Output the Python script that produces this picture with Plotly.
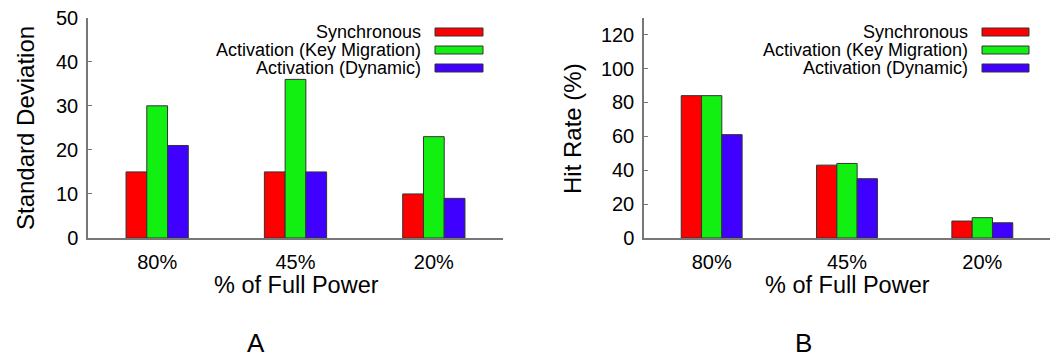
import plotly.graph_objects as go

categories = ["80%", "45%", "20%"]
series_names = ["Synchronous", "Activation (Key Migration)", "Activation (Dynamic)"]
colors = ["#FF0000", "#11F011", "#4000FF"]

std_sync = [15, 15, 10]
std_keymig = [30, 36, 23]
std_dynamic = [21, 15, 9]

hit_sync = [84, 43, 10]
hit_keymig = [84, 44, 12]
hit_dynamic = [61, 35, 9]

W, H = 1058, 358
FONT = "Liberation Sans, Arial, Helvetica, sans-serif"

fig = go.Figure()

for name, vals, c in zip(series_names, [std_sync, std_keymig, std_dynamic], colors):
    fig.add_trace(go.Bar(x=categories, y=vals, name=name, marker=dict(color=c, line=dict(color="#333333", width=1)),
                         xaxis="x", yaxis="y", showlegend=False))
for name, vals, c in zip(series_names, [hit_sync, hit_keymig, hit_dynamic], colors):
    fig.add_trace(go.Bar(x=categories, y=vals, name=name, marker=dict(color=c, line=dict(color="#333333", width=1)),
                         xaxis="x2", yaxis="y2", showlegend=False))

def px_x(p):
    return p / W

def px_y(p):
    return 1 - p / H

axis_common_x = dict(showline=True, linecolor="#777777", linewidth=1.5, ticks="", showgrid=False, zeroline=False,
                     range=[-0.5, 2.5], tickfont=dict(family=FONT, size=20, color="black"), ticklabelstandoff=5)
axis_common_y = dict(showline=True, linecolor="#777777", linewidth=1.5, ticks="inside", ticklen=4, tickcolor="#777777",
                     showgrid=False, zeroline=False, tickfont=dict(family=FONT, size=20, color="black"),
                     ticklabelstandoff=4)

fig.update_layout(
    width=W, height=H, margin=dict(l=0, r=0, t=0, b=0, autoexpand=False),
    paper_bgcolor="white", plot_bgcolor="white", showlegend=False,
    barmode="group", bargap=0.55, bargroupgap=0,
    xaxis=dict(domain=[px_x(88), px_x(503)], anchor="y", **axis_common_x),
    yaxis=dict(domain=[px_y(238), px_y(17.7)], anchor="x", range=[0, 50], dtick=10, **axis_common_y),
    xaxis2=dict(domain=[px_x(644), px_x(1050)], anchor="y2", **axis_common_x),
    yaxis2=dict(domain=[px_y(238), px_y(17.7)], anchor="x2", range=[0, 130], dtick=20, **axis_common_y),
)

annotations = []
shapes = []

def title(text, x, y, angle=0, size=23, box=None):
    a = dict(text=text, x=px_x(x), y=px_y(y), xref="paper", yref="paper", showarrow=False,
             xanchor="center", yanchor="middle", textangle=angle,
             font=dict(family=FONT, size=size, color="black"))
    if box:
        a["height"] = box
    annotations.append(a)

title("Standard Deviation", 25, 128, -90, 24)
title("% of Full Power", 296, 285, 0, 23.5, 22)
title("Hit Rate (%)", 572, 129, -90, 24)
title("% of Full Power", 847, 285, 0, 23.5, 22)
title("A", 256, 343, 0, 26)
title("B", 803, 343, 0, 26)

row_y = [32, 50, 68]
for text_right, sw_l, sw_r in [(423, 435, 483), (970, 982, 1029)]:
    for name, c, ry in zip(series_names, colors, row_y):
        annotations.append(dict(text=name, x=px_x(text_right), y=px_y(ry), xref="paper", yref="paper",
                                showarrow=False, xanchor="right", yanchor="middle",
                                font=dict(family=FONT, size=18, color="black")))
        shapes.append(dict(type="rect", xref="paper", yref="paper", x0=px_x(sw_l), x1=px_x(sw_r),
                           y0=px_y(ry + 4), y1=px_y(ry - 4), fillcolor=c, line=dict(color="#333333", width=1)))

fig.update_layout(annotations=annotations, shapes=shapes)

fig.write_html("out.html", post_script="document.body.style.margin='0';")
